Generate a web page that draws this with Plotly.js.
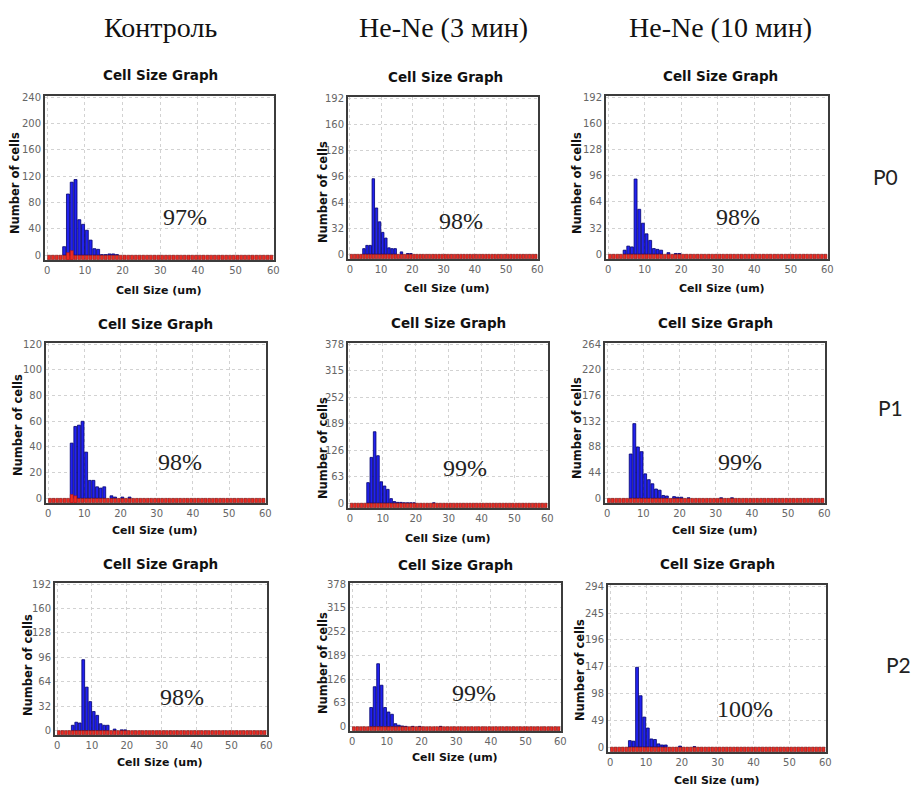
<!DOCTYPE html>
<html><head><meta charset="utf-8">
<script src="https://cdn.plot.ly/plotly-3.0.1.min.js"></script>
<style>html,body{margin:0;padding:0;background:#fff}#chart{width:913px;height:787px}</style>
</head><body><div id="chart"></div><script>
// ---------- DATA ----------
const columnHeaders = ["Контроль", "He-Ne (3 мин)", "He-Ne (10 мин)"];
const rowLabels = ["P0", "P1", "P2"];
const binCenters = [0.5,1.5,2.5,3.5,4.5,5.5,6.5,7.5,8.5,9.5,10.5,11.5,12.5,13.5,14.5,15.5,16.5,17.5,18.5,19.5,
  20.5,21.5,22.5,23.5,24.5,25.5,26.5,27.5,28.5,29.5,30.5,31.5,32.5,33.5,34.5,35.5,36.5,37.5,38.5,39.5,
  40.5,41.5,42.5,43.5,44.5,45.5,46.5,47.5,48.5,49.5,50.5,51.5,52.5,53.5,54.5,55.5,56.5,57.5,58.5,59.5];
const xTicks = [0,10,20,30,40,50,60];

// P0
const ctrlP0Size  = [4.5,5.5,6.5,7.5,8.5,9.5,10.5,11.5,12.5,13.5,14.5,15.5,16.5,17.5,18.5];
const ctrlP0Count = [13,93,111,115,54,47,38,23,10,9,1,1,2,2,1];
const ctrlP0DeadSize = [5.5,6.5];
const ctrlP0Dead     = [4,7];
const min3P0Size  = [4.5,5.5,6.5,7.5,8.5,9.5,10.5,11.5,12.5,13.5,14.5,16.5,18.5,19.5];
const min3P0Count = [7,11,11,93,57,40,27,20,8,7,7,3,1,1];
const min10P0Size  = [4.5,5.5,6.5,7.5,8.5,9.5,10.5,11.5,12.5,13.5,14.5,16.5,18.5,19.5];
const min10P0Count = [5,10,9,92,55,38,25,17,7,6,5,2,1,1];
// P1
const ctrlP1Size  = [6.5,7.5,8.5,9.5,10.5,11.5,12.5,13.5,14.5,15.5,17.5,18.5,20.5,22.5];
const ctrlP1Count = [43,56,57,60,36,14,14,9,8,9,2,1,1,1];
const ctrlP1DeadSize = [6.5,7.5];
const ctrlP1Dead     = [3,2];
const min3P1Size  = [5.5,6.5,7.5,8.5,9.5,10.5,11.5,12.5,13.5,14.5,15.5,16.5,17.5,18.5,19.5,25.5];
const min3P1Count = [49,109,170,113,51,41,33,11,4,2,2,1,1,1,1,1];
const min10P1Size  = [6.5,7.5,8.5,9.5,10.5,11.5,12.5,13.5,14.5,15.5,16.5,18.5,19.5,20.5,22.5,31.5,34.5];
const min10P1Count = [76,128,88,80,42,32,25,16,14,5,4,3,2,2,1,1,1];
// P2
const ctrlP2Size  = [4.5,5.5,6.5,7.5,8.5,9.5,10.5,11.5,12.5,13.5,14.5,16.5,18.5,19.5];
const ctrlP2Count = [7,11,10,93,57,38,25,20,9,7,7,2,1,1];
const min3P2Size  = [5.5,6.5,7.5,8.5,9.5,10.5,11.5,12.5,13.5,14.5,15.5,17.5,19.5,25.5];
const min3P2Count = [51,106,167,110,51,39,33,8,4,2,1,1,1,1];
const min10P2Size  = [5.5,6.5,7.5,8.5,9.5,10.5,11.5,12.5,13.5,14.5,15.5,19.5,23.5];
const min10P2Count = [12,11,146,94,55,35,15,14,6,4,4,2,1];

const yTicksA = [0,40,80,120,160,200,240];
const yTicksB = [0,32,64,96,128,160,192];
const yTicksC = [0,20,40,60,80,100,120];
const yTicksD = [0,63,126,189,252,315,378];
const yTicksE = [0,44,88,132,176,220,264];
const yTicksF = [0,49,98,147,196,245,294];

const viability = ["97%","98%","98%","98%","99%","99%","98%","99%","100%"];

// ---------- PANEL SETUP ----------
const panelData = [
  {size: ctrlP0Size, count: ctrlP0Count, deadSize: ctrlP0DeadSize, dead: ctrlP0Dead, ticks: yTicksA},
  {size: min3P0Size, count: min3P0Count, deadSize: [], dead: [], ticks: yTicksB},
  {size: min10P0Size, count: min10P0Count, deadSize: [], dead: [], ticks: yTicksB},
  {size: ctrlP1Size, count: ctrlP1Count, deadSize: ctrlP1DeadSize, dead: ctrlP1Dead, ticks: yTicksC},
  {size: min3P1Size, count: min3P1Count, deadSize: [], dead: [], ticks: yTicksD},
  {size: min10P1Size, count: min10P1Count, deadSize: [], dead: [], ticks: yTicksE},
  {size: ctrlP2Size, count: ctrlP2Count, deadSize: [], dead: [], ticks: yTicksB},
  {size: min3P2Size, count: min3P2Count, deadSize: [], dead: [], ticks: yTicksD},
  {size: min10P2Size, count: min10P2Count, deadSize: [], dead: [], ticks: yTicksF}
];

// layout boxes in pixels
const boxes = [
 {l:45,r:274,t:96,b:260, title:[160,75], ytitle:[15,183], xtitle:[159,290], pct:[185,217]},
 {l:348,r:538,t:97,b:259, title:[445,77], ytitle:[323,192], xtitle:[447,288], pct:[461,221]},
 {l:606,r:828,t:96,b:259, title:[720,76], ytitle:[577,183], xtitle:[722,288], pct:[738,217]},
 {l:46,r:266,t:343,b:503, title:[155,324], ytitle:[18,425], xtitle:[155,530], pct:[180,462]},
 {l:348,r:548,t:343,b:508, title:[448,323], ytitle:[323,448], xtitle:[448,538], pct:[465,468]},
 {l:605,r:825,t:343,b:503, title:[715,323], ytitle:[577,428], xtitle:[715,530], pct:[740,462]},
 {l:55,r:267,t:583,b:735, title:[160,564], ytitle:[28,665], xtitle:[160,762], pct:[182,697]},
 {l:350,r:561,t:583,b:731, title:[455,565], ytitle:[323,663], xtitle:[455,757], pct:[474,693]},
 {l:608,r:826,t:585,b:752, title:[717,564], ytitle:[580,670], xtitle:[717,780], pct:[745,709]}
];
const headerPos = [[160,28],[443,28],[720,28]];
const rowPos = [[885,176],[890,407],[898,664]];

const W = 913, H = 787;
const px = x => x / W;
const py = y => 1 - y / H;

const traces = [];
const layout = {
  width: W, height: H, margin: {l:0, r:0, t:0, b:0},
  paper_bgcolor: '#fff', plot_bgcolor: '#fff',
  showlegend: false, barmode: 'overlay',
  font: {family: 'DejaVu Sans, Verdana, sans-serif'},
  annotations: []
};

panelData.forEach((p, i) => {
  const n = i === 0 ? '' : String(i + 1);
  const xa = 'x' + n, ya = 'y' + n;
  const bx = boxes[i];
  const yMax = p.ticks[p.ticks.length - 1];
  const off = yMax * 0.028;

  traces.push({
    type: 'bar', x: p.size, y: p.count, xaxis: xa, yaxis: ya, width: 0.8,
    marker: {color: '#2222f0', line: {color: '#00006e', width: 0.8}}, hoverinfo: 'x+y'
  });
  // base row of red bins
  traces.push({
    type: 'bar', x: binCenters, y: binCenters.map(() => off), base: -off,
    xaxis: xa, yaxis: ya, width: 0.8,
    marker: {color: '#ee2a22', line: {color: '#7a1010', width: 0.6}}, hoverinfo: 'skip'
  });
  if (p.dead.length) {
    traces.push({
      type: 'bar', x: p.deadSize, y: p.dead.map(v => v + off), base: -off,
      xaxis: xa, yaxis: ya, width: 0.8,
      marker: {color: '#ee2a22', line: {color: '#b01010', width: 0.5}}
    });
  }

  layout['xaxis' + n] = {
    domain: [px(bx.l), px(bx.r)], anchor: ya, range: [-0.6, 60.2],
    tickvals: xTicks, ticktext: xTicks.map(String), ticks: '',
    tickfont: {size: 10, color: '#666'},
    showgrid: true, gridcolor: '#d2d2d2', griddash: 'dot', gridwidth: 1,
    showline: true, mirror: true, linecolor: '#3c3c3c', linewidth: 2, zeroline: false,
    fixedrange: true
  };
  layout['yaxis' + n] = {
    domain: [py(bx.b), py(bx.t)], anchor: xa, range: [-yMax * 0.03, yMax * 1.008],
    tickvals: p.ticks, ticktext: p.ticks.map(String), ticks: '',
    tickfont: {size: 10, color: '#666'},
    showgrid: true, gridcolor: '#d2d2d2', griddash: 'dot', gridwidth: 1,
    showline: true, mirror: true, linecolor: '#3c3c3c', linewidth: 2, zeroline: false,
    fixedrange: true
  };

  const A = layout.annotations;
  A.push({text: '<b>Cell Size Graph</b>', x: px(bx.title[0]), y: py(bx.title[1]), xref: 'paper', yref: 'paper',
    showarrow: false, xanchor: 'center', yanchor: 'middle', font: {size: 13.5, color: '#111'}});
  A.push({text: '<b>Number of cells</b>', x: px(bx.ytitle[0]), y: py(bx.ytitle[1]), xref: 'paper', yref: 'paper',
    showarrow: false, xanchor: 'center', yanchor: 'middle', textangle: -90, font: {size: 11.5, color: '#111'}});
  A.push({text: '<b>Cell Size (um)</b>', x: px(bx.xtitle[0]), y: py(bx.xtitle[1]), xref: 'paper', yref: 'paper',
    showarrow: false, xanchor: 'center', yanchor: 'middle', font: {size: 11, color: '#111'}});
  A.push({text: viability[i], x: px(bx.pct[0]), y: py(bx.pct[1]), xref: 'paper', yref: 'paper',
    showarrow: false, xanchor: 'center', yanchor: 'middle',
    font: {size: 24, color: '#222', family: 'Liberation Serif, Times New Roman, serif'}});
});

columnHeaders.forEach((h, i) => {
  layout.annotations.push({text: h, x: px(headerPos[i][0]), y: py(headerPos[i][1]), xref: 'paper', yref: 'paper',
    showarrow: false, xanchor: 'center', yanchor: 'middle',
    font: {size: 28, color: '#111', family: 'Liberation Serif, Times New Roman, serif'}});
});
rowLabels.forEach((r, i) => {
  layout.annotations.push({text: r, x: px(rowPos[i][0]), y: py(rowPos[i][1]), xref: 'paper', yref: 'paper',
    showarrow: false, xanchor: 'center', yanchor: 'middle',
    font: {size: 21, color: '#222', family: 'Lato, Open Sans, sans-serif'}});
});

Plotly.newPlot('chart', traces, layout, {staticPlot: true, displayModeBar: false});
</script></body></html>
